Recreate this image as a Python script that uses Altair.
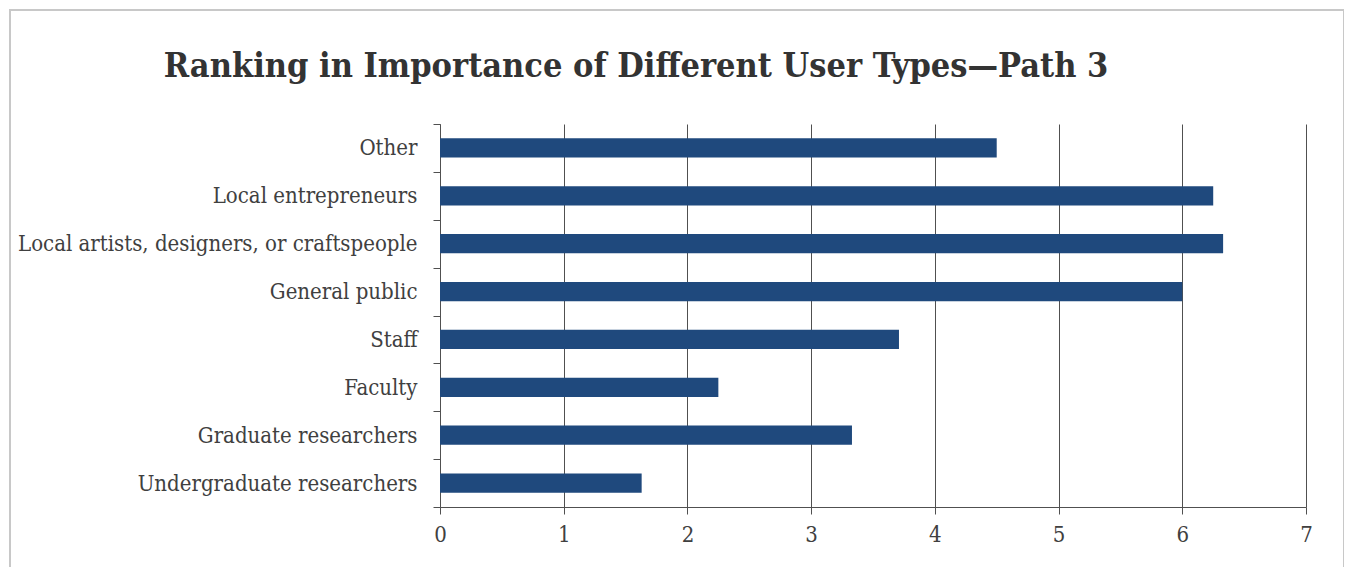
import altair as alt
import pandas as pd

categories = [
    "Other",
    "Local entrepreneurs",
    "Local artists, designers, or craftspeople",
    "General public",
    "Staff",
    "Faculty",
    "Graduate researchers",
    "Undergraduate researchers",
]
values = [4.5, 6.25, 6.33, 6.0, 3.71, 2.25, 3.33, 1.63]
x_ticks = [0, 1, 2, 3, 4, 5, 6, 7]
title_text = "Ranking in Importance of Different User Types\u2014Path 3"

df = pd.DataFrame({"category": categories, "value": values})

FONT = "DejaVu Serif Condensed"
BAR = "#1F497D"
GRID = "#505050"
TEXT = "#404040"

bars = alt.Chart(df).mark_bar(color=BAR, height=alt.RelativeBandSize(0.4)).encode(
    y=alt.Y(
        "category:N",
        sort=categories,
        title=None,
        scale=alt.Scale(paddingInner=0, paddingOuter=0),
        axis=alt.Axis(
            tickBand="extent",
            ticks=True,
            tickSize=7,
            tickColor=GRID,
            domainColor=GRID,
            labelFont=FONT,
            labelFontSize=22,
            labelColor=TEXT,
            labelPadding=16,
            labelLimit=0,
            grid=False,
        ),
    ),
    x=alt.X(
        "value:Q",
        title=None,
        scale=alt.Scale(domain=[0, 7], nice=False),
        axis=alt.Axis(
            values=x_ticks,
            format="d",
            grid=True,
            gridColor=GRID,
            gridWidth=1,
            tickColor=GRID,
            tickSize=7,
            domainColor=GRID,
            labelFont=FONT,
            labelFontSize=22,
            labelColor=TEXT,
            labelPadding=10,
            labelFlush=False,
        ),
    ),
)

frame = alt.Chart(pd.DataFrame({"k": [0]})).mark_rect(
    fill=None, stroke="#C8C8C8", strokeWidth=2, clip=False
).encode(
    x=alt.value(-430),
    x2=alt.value(904),
    y=alt.value(-114),
    y2=alt.value(470),
)

chart = alt.layer(frame, bars).properties(
    width=866,
    height=383,
    autosize=alt.AutoSizeParams(type="none"),
    padding={"left": 432, "top": 116, "right": 38, "bottom": 60},
    title=alt.TitleParams(
        text=title_text,
        font=FONT,
        fontSize=34,
        fontWeight="bold",
        color="#333333",
        anchor="middle",
        frame="group",
        dx=-237,
        offset=-75,
    ),
).configure_view(stroke=None)

chart.save("out.html", embed_options={"renderer": "svg", "actions": False})
